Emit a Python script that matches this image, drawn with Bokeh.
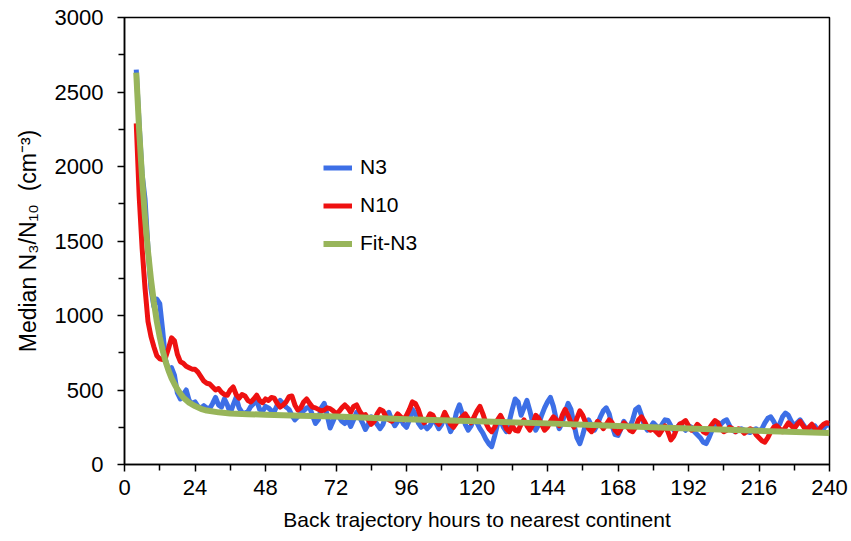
from bokeh.plotting import figure
from bokeh.models import Legend, LegendItem, Range1d, FixedTicker
from bokeh.embed import file_html
from bokeh.resources import INLINE

# ---- data ----
hours = list(range(4, 241))

n3 = [
    2650, 2280, 1950, 1780, 1450, 1180, 1060, 1110, 1080, 900, 700, 630,
    650, 600, 480, 440, 470, 500, 430, 410, 420, 390, 380, 395,
    380, 375, 410, 450, 400, 385, 440, 400, 345, 400, 450, 380,
    350, 345, 355, 390, 410, 430, 370, 355, 390, 380, 360, 355,
    400, 430, 410, 385, 370, 330, 300, 320, 345, 360, 380, 385,
    330, 275, 300, 380, 410, 330, 245, 290, 340, 320, 290, 275,
    300, 255, 300, 350, 320, 280, 235, 270, 320, 300, 270, 240,
    270, 330, 350, 300, 260, 290, 310, 270, 250, 300, 370, 340,
    280, 250, 265, 240, 260, 300, 280, 240, 270, 330, 280, 220,
    260, 350, 400, 340, 270, 230, 260, 310, 280, 240, 210, 170,
    140, 120, 190, 270, 300, 250, 220, 290, 370, 440, 420, 330,
    380, 430, 360, 280, 230, 270, 330, 380, 420, 450, 390, 300,
    240, 280, 350, 410, 370, 270, 180, 140, 200, 270, 300, 260,
    230, 270, 320, 360, 380, 340, 260, 200, 195, 240, 290, 260,
    250, 300, 370, 385, 330, 260, 230, 250, 280, 260, 240, 270,
    300, 295, 260, 230, 245, 270, 250, 230, 260, 250, 220, 200,
    180, 150, 140, 180, 230, 260, 280, 270, 290, 300, 260, 230,
    220, 230, 240, 230, 220, 215, 230, 240, 225, 240, 280, 310,
    320, 290, 250, 270, 320, 345, 330, 290, 260, 280, 300, 270,
    240, 230, 250, 260, 230, 215, 240, 270, 260,
]

n10 = [
    2290, 1800, 1450, 1180, 960, 860, 790, 730, 710, 705, 720, 780,
    850, 830, 740, 690, 680, 660, 650, 640, 640, 620, 590, 560,
    545, 540, 520, 500, 510, 485, 470, 465, 500, 520, 470, 445,
    470, 460, 430, 420, 440, 465, 430, 415, 440, 430, 450, 445,
    410, 385, 400, 420, 455, 460, 400, 365, 380, 420, 440, 410,
    385, 380, 370, 360, 365, 380, 375, 360, 340, 355, 380, 400,
    380, 350, 390, 400, 360, 330, 335, 300, 270, 290, 340, 370,
    360, 320, 300, 290, 310, 340, 320, 300, 330, 370, 420, 410,
    370, 310, 280, 300, 340, 330, 290, 270, 300, 350, 310, 270,
    250, 280, 300, 320, 340, 310, 280, 320, 360, 390, 340, 280,
    240, 220, 250, 300, 330, 290, 240, 220, 260, 230, 225, 270,
    300, 260, 230, 270, 330, 310, 270, 230, 250, 290, 320, 300,
    260, 330, 370, 330, 280, 250, 310, 360, 330, 280, 240, 220,
    250, 290, 270, 240, 270, 300, 280, 230, 210, 240, 280, 260,
    230, 220, 250, 300, 320, 290, 250, 230, 240, 220, 200, 230,
    260, 220, 165, 190, 240, 270, 280, 295, 260, 230, 240, 270,
    250, 220, 210, 240, 270, 295, 280, 240, 220, 230, 250, 240,
    220, 240, 230, 210, 225, 240, 230, 200, 180, 160, 150, 180,
    220, 250, 260, 240, 220, 250, 280, 260, 240, 270, 290, 260,
    230, 250, 270, 240, 220, 250, 270, 280, 275,
]

fit_hours = [4, 5, 6, 7, 8, 9, 10, 11, 12, 13, 14, 15, 16, 17, 18, 19, 20,
             22, 24, 26, 28, 32, 36, 42, 48, 60, 72, 96, 120, 144, 168, 192,
             216, 240]
fit_n3 = [2630, 2240, 1920, 1650, 1430, 1245, 1090, 960, 855, 765, 690, 630,
          580, 540, 505, 475, 450, 415, 392, 374, 362, 350, 343, 338, 334,
          328, 322, 304, 290, 276, 258, 241, 226, 212]

x_ticks = [0, 24, 48, 72, 96, 120, 144, 168, 192, 216, 240]
y_ticks = [0, 500, 1000, 1500, 2000, 2500, 3000]

FONT = "Liberation Sans"

p = figure(width=851, height=541, output_backend="svg", toolbar_location=None,
           x_range=Range1d(0, 240), y_range=Range1d(0, 3000),
           min_border_left=124, min_border_right=22, min_border_top=17,
           min_border_bottom=77)

p.xgrid.visible = False
p.ygrid.visible = False
p.outline_line_color = "black"
p.outline_line_width = 1.5
p.background_fill_color = "white"
p.border_fill_color = "white"

r_n3 = p.line(hours, n3, line_color="#3D6FE6", line_width=5, line_join="round")
r_n10 = p.line(hours, n10, line_color="#EE1111", line_width=5, line_join="round")
r_fit = p.line(fit_hours, fit_n3, line_color="#98B55A", line_width=6, line_join="round")

for ax in (p.xaxis[0], p.yaxis[0]):
    ax.axis_line_color = "black"
    ax.axis_line_width = 1.5
    ax.major_tick_line_color = "black"
    ax.minor_tick_line_color = "black"
    ax.major_tick_line_width = 1.5
    ax.minor_tick_line_width = 1.5
    ax.major_tick_in = 0
    ax.major_tick_out = 7
    ax.minor_tick_in = 0
    ax.minor_tick_out = 6
    ax.major_label_text_font = FONT
    ax.major_label_text_font_size = "22px"
    ax.major_label_text_color = "black"
    ax.axis_label_text_font = FONT
    ax.axis_label_text_font_size = "21px"
    ax.axis_label_text_font_style = "normal"
    ax.axis_label_text_color = "black"

p.xaxis.ticker = FixedTicker(ticks=x_ticks, minor_ticks=list(range(12, 240, 24)))
p.yaxis.ticker = FixedTicker(ticks=y_ticks, minor_ticks=list(range(250, 3000, 500)))
p.xaxis.major_label_standoff = 8
p.yaxis.major_label_standoff = 14
p.xaxis.axis_label = "Back trajectory hours to nearest continent"
p.yaxis.axis_label = "Median N\u2083/N\u2081\u2080\u00a0\u00a0(cm\u207b\u00b3)"
p.yaxis.axis_label_text_font_size = "23px"
p.xaxis.axis_label_standoff = 10
p.yaxis.axis_label_standoff = 11

legend = Legend(items=[LegendItem(label="N3", renderers=[r_n3]),
                       LegendItem(label="N10", renderers=[r_n10]),
                       LegendItem(label="Fit-N3", renderers=[r_fit])],
                location=(199, 209))
legend.background_fill_alpha = 0
legend.border_line_alpha = 0
legend.padding = 0
legend.margin = 0
legend.spacing = 14
legend.glyph_width = 29
legend.glyph_height = 21
legend.label_height = 21
legend.label_standoff = 8
legend.label_text_font = FONT
legend.label_text_font_size = "21px"
legend.label_text_color = "black"
p.add_layout(legend, "center")

open("out.html", "w").write(file_html(p, INLINE))
